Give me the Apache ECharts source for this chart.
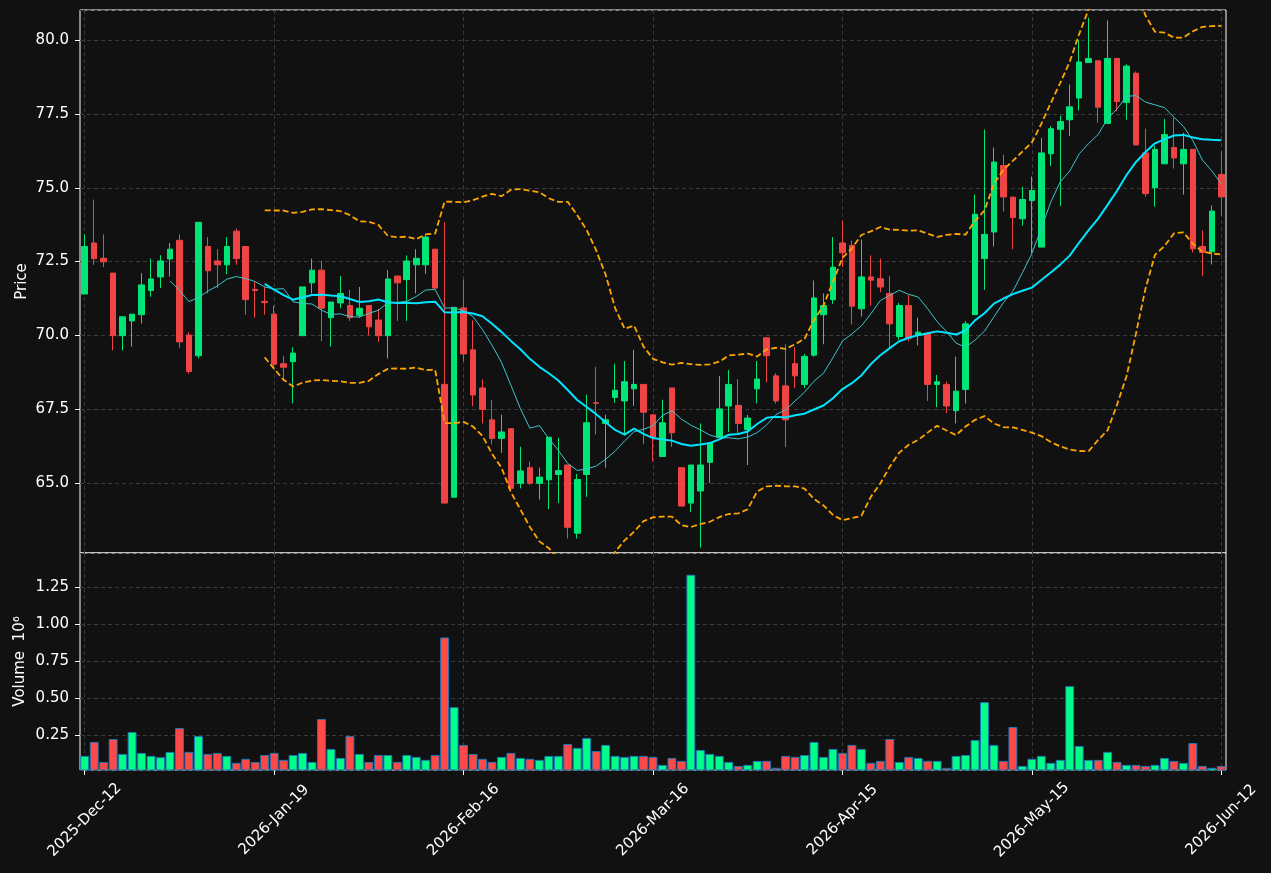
<!DOCTYPE html>
<html>
<head>
<meta charset="utf-8">
<title>Price and Volume</title>
<script src="https://cdn.jsdelivr.net/npm/echarts@6/dist/echarts.min.js"></script>
<style>
  html, body { margin: 0; padding: 0; background: #111111; }
  #chart { width: 1271px; height: 873px; }
</style>
</head>
<body>
<div id="chart"></div>
<script>
// trading calendar: weekdays from the first session, minus market holidays
var firstSession = '2025-12-12';
var sessionCount = 121;
var holidays = ['2025-12-24', '2025-12-25', '2025-12-26', '2025-12-31', '2026-01-01',
                '2026-01-02', '2026-04-03', '2026-04-06', '2026-05-01', '2026-05-14'];
var monthNames = ['Jan', 'Feb', 'Mar', 'Apr', 'May', 'Jun', 'Jul', 'Aug', 'Sep', 'Oct', 'Nov', 'Dec'];

// OHLC
var opens = [
  71.40, 73.13, 72.61, 72.11, 69.99, 70.49, 70.70, 71.52, 71.98, 72.59,
  73.22, 70.01, 69.31, 73.01, 72.52, 72.39, 73.53, 73.01, 71.56, 71.15,
  70.72, 69.04, 69.11, 69.99, 71.78, 72.21, 70.60, 71.10, 71.01, 70.68,
  71.01, 70.52, 69.99, 72.01, 71.89, 72.39, 72.39, 72.92, 68.34, 64.52,
  70.93, 69.51, 68.22, 67.14, 66.51, 66.84, 64.99, 65.52, 64.99, 65.11,
  65.29, 65.61, 63.30, 65.29, 67.72, 67.02, 67.90, 67.78, 68.19, 68.34,
  67.31, 65.90, 68.22, 65.52, 64.32, 64.73, 65.70, 66.55, 67.61, 67.63,
  66.81, 68.19, 69.92, 68.63, 68.29, 69.04, 68.34, 69.33, 70.70, 71.21,
  73.13, 73.05, 70.90, 71.98, 71.92, 71.42, 69.96, 71.01, 70.02, 70.07,
  68.34, 68.34, 67.45, 68.17, 70.70, 72.60, 73.50, 75.75, 74.68, 73.95,
  74.57, 72.99, 76.15, 76.98, 77.30, 78.04, 79.24, 79.30, 77.18, 79.38,
  77.89, 78.88, 76.18, 75.00, 75.81, 76.36, 75.81, 76.30, 73.01, 72.83,
  75.45
];
var closes = [
  73.01, 72.60, 72.49, 69.99, 70.63, 70.72, 71.71, 71.91, 72.52, 72.92,
  69.78, 68.78, 73.83, 72.19, 72.39, 73.01, 72.60, 71.21, 71.52, 71.11,
  69.02, 68.92, 69.40, 71.64, 72.21, 70.92, 71.13, 71.42, 70.60, 70.92,
  70.29, 69.99, 71.91, 71.78, 72.52, 72.61, 73.33, 71.60, 64.32, 70.95,
  69.37, 67.98, 67.49, 66.51, 66.73, 64.82, 65.41, 64.99, 65.20, 66.55,
  65.42, 63.50, 65.12, 67.04, 67.70, 67.14, 68.14, 68.43, 68.34, 67.40,
  66.55, 67.04, 66.70, 64.22, 65.61, 65.61, 66.34, 67.51, 68.34, 67.02,
  67.20, 68.52, 69.31, 67.78, 67.14, 68.63, 69.29, 71.27, 71.01, 72.31,
  72.80, 70.99, 71.98, 71.87, 71.64, 70.39, 71.01, 69.90, 70.11, 68.34,
  68.43, 67.61, 68.11, 70.39, 74.10, 73.42, 75.87, 74.69, 73.99, 74.60,
  74.91, 76.18, 77.00, 77.24, 77.74, 79.26, 79.38, 77.73, 79.38, 77.92,
  79.12, 76.45, 74.80, 76.30, 76.80, 76.01, 76.30, 72.93, 72.81, 74.21,
  74.69
];
var lows = [
  71.40, 72.39, 72.31, 69.49, 69.49, 69.62, 70.40, 71.31, 71.60, 71.99,
  69.58, 68.70, 69.22, 71.42, 71.60, 72.07, 72.39, 70.70, 70.60, 70.70,
  68.93, 68.45, 67.70, 69.99, 71.42, 69.80, 69.62, 70.92, 70.49, 70.60,
  70.00, 69.78, 69.22, 70.49, 70.49, 71.42, 72.09, 71.60, 64.32, 64.52,
  69.11, 67.61, 67.02, 66.31, 66.02, 64.82, 64.82, 64.94, 64.44, 64.12,
  64.32, 63.12, 63.12, 64.53, 66.64, 65.52, 67.72, 66.61, 67.61, 66.31,
  65.73, 65.90, 66.22, 64.22, 64.02, 62.81, 65.00, 66.55, 66.73, 66.67,
  65.61, 67.70, 68.41, 67.69, 66.22, 68.22, 68.22, 69.28, 69.70, 71.07,
  72.31, 70.37, 70.64, 71.01, 71.46, 69.60, 69.86, 69.80, 69.66, 67.78,
  67.57, 67.37, 67.02, 67.69, 70.70, 71.54, 73.01, 74.19, 72.92, 73.72,
  72.78, 72.99, 75.74, 74.38, 76.75, 77.62, 79.24, 77.20, 77.18, 77.59,
  77.30, 76.45, 74.69, 74.36, 75.81, 75.65, 74.77, 72.81, 72.00, 72.40,
  74.04
];
var highs = [
  73.42, 74.60, 73.42, 72.11, 70.63, 70.72, 72.11, 72.60, 72.71, 73.13,
  73.42, 70.11, 73.83, 73.33, 72.92, 73.33, 73.62, 73.01, 71.84, 71.66,
  71.01, 69.31, 69.60, 71.64, 72.60, 72.52, 71.13, 72.01, 71.54, 71.64,
  71.01, 70.90, 72.21, 72.01, 72.71, 72.92, 73.42, 72.92, 73.83, 70.95,
  71.89, 70.51, 68.51, 67.82, 67.31, 66.84, 66.23, 65.73, 65.52, 66.55,
  66.53, 65.61, 65.31, 67.99, 68.93, 67.31, 69.04, 69.13, 69.51, 68.34,
  67.31, 67.82, 68.22, 65.52, 65.61, 67.02, 66.37, 68.63, 68.83, 68.52,
  67.31, 69.13, 69.92, 68.72, 69.70, 69.60, 69.37, 71.86, 71.42, 73.33,
  73.89, 73.21, 73.25, 72.71, 72.60, 72.01, 71.10, 71.37, 70.60, 70.07,
  68.66, 68.43, 69.28, 70.49, 74.77, 76.97, 76.36, 76.12, 74.71, 75.03,
  75.38, 76.69, 77.09, 77.44, 78.50, 80.00, 80.76, 79.30, 80.67, 79.38,
  79.18, 78.94, 77.00, 76.42, 77.33, 77.38, 76.86, 76.30, 73.56, 74.40,
  76.24
];
// volume in millions of shares
var volumes = [
  0.109, 0.203, 0.068, 0.223, 0.122, 0.270, 0.129, 0.109, 0.100, 0.136,
  0.297, 0.136, 0.243, 0.122, 0.129, 0.109, 0.062, 0.089, 0.068, 0.115,
  0.129, 0.082, 0.115, 0.129, 0.068, 0.358, 0.156, 0.095, 0.243, 0.122,
  0.068, 0.115, 0.115, 0.068, 0.115, 0.102, 0.082, 0.115, 0.909, 0.438,
  0.183, 0.122, 0.089, 0.068, 0.102, 0.129, 0.095, 0.089, 0.082, 0.109,
  0.109, 0.189, 0.163, 0.230, 0.142, 0.183, 0.109, 0.102, 0.109, 0.109,
  0.102, 0.048, 0.095, 0.075, 1.333, 0.149, 0.122, 0.109, 0.068, 0.041,
  0.048, 0.075, 0.075, 0.028, 0.109, 0.102, 0.115, 0.203, 0.102, 0.156,
  0.129, 0.183, 0.156, 0.062, 0.075, 0.223, 0.068, 0.102, 0.095, 0.075,
  0.075, 0.028, 0.109, 0.115, 0.216, 0.472, 0.183, 0.075, 0.304, 0.041,
  0.089, 0.109, 0.062, 0.082, 0.580, 0.176, 0.082, 0.082, 0.136, 0.068,
  0.048, 0.048, 0.041, 0.048, 0.095, 0.075, 0.062, 0.196, 0.041, 0.028,
  0.041
];

// indicator settings
var maFast = 10;
var maSlow = 20;
var bandWidth = 2;

function tradingDays(start, count, skip) {
  var out = [];
  var d = new Date(start + 'T00:00:00Z');
  while (out.length < count) {
    var iso = d.toISOString().slice(0, 10);
    var wd = d.getUTCDay();
    if (wd !== 0 && wd !== 6 && skip.indexOf(iso) < 0) out.push(iso);
    d.setUTCDate(d.getUTCDate() + 1);
  }
  return out;
}

function fmtDate(iso) {
  var p = iso.split('-');
  return p[0] + '-' + monthNames[+p[1] - 1] + '-' + p[2];
}

// simple moving average of the closes
function movingAverage(vals, n) {
  return vals.map(function (v, i) {
    if (i < n - 1) return null;
    var s = 0;
    for (var k = i - n + 1; k <= i; k++) s += vals[k];
    return +(s / n).toFixed(3);
  });
}

// bollinger bands (population std)
function bands(vals, n, mult) {
  var mid = movingAverage(vals, n);
  var up = [], lo = [];
  vals.forEach(function (v, i) {
    if (mid[i] == null) { up.push(null); lo.push(null); return; }
    var s = 0;
    for (var k = i - n + 1; k <= i; k++) s += Math.pow(vals[k] - mid[i], 2);
    var sd = Math.sqrt(s / n);
    up.push(+(mid[i] + mult * sd).toFixed(3));
    lo.push(+(mid[i] - mult * sd).toFixed(3));
  });
  return { up: up, lo: lo };
}

var dates = tradingDays(firstSession, sessionCount, holidays);
var ohlc = opens.map(function (o, i) { return [o, closes[i], lows[i], highs[i]]; });
var ma10 = movingAverage(closes, maFast);
var ma20 = movingAverage(closes, maSlow);
var bb = bands(closes, maSlow, bandWidth);

var upColor = '#00e676', downColor = '#ef4444';
var volUp = '#00ff88', volDown = '#ff4848';
var volData = volumes.map(function (v, i) {
  return { value: v, itemStyle: { color: closes[i] >= opens[i] ? volUp : volDown } };
});

var font = 'DejaVu Sans';
var textColor = '#ffffff';
var fontSize = 15;
var gridLine = { show: true, lineStyle: { color: '#3a3a3a', type: [4, 3], width: 1 } };

var chart = echarts.init(document.getElementById('chart'));

var option = {
  backgroundColor: '#111111',
  animation: false,
  textStyle: { fontFamily: font },
  tooltip: { trigger: 'axis', axisPointer: { type: 'cross' } },
  axisPointer: { link: [{ xAxisIndex: 'all' }] },
  grid: [
    { left: 80, right: 45, top: 10, height: 543, show: true,
      backgroundColor: '#111111', borderColor: '#ffffff', borderWidth: 1 },
    { left: 80, right: 45, top: 553, height: 217, show: true,
      backgroundColor: '#111111', borderColor: '#ffffff', borderWidth: 1 }
  ],
  xAxis: [
    {
      type: 'category', gridIndex: 0, data: dates, boundaryGap: true,
      axisLine: { show: false }, axisTick: { show: false }, axisLabel: { show: false },
      splitLine: { show: true, interval: 19, alignWithLabel: true,
        lineStyle: gridLine.lineStyle }
    },
    {
      type: 'category', gridIndex: 1, data: dates, boundaryGap: true,
      axisLine: { show: false },
      axisTick: { show: true, interval: 19, alignWithLabel: true, length: 5,
        lineStyle: { color: '#ffffff' } },
      axisLabel: {
        interval: 19, rotate: 45, align: 'center', verticalAlign: 'middle', margin: 50,
        color: textColor, fontSize: fontSize, fontFamily: font,
        formatter: function (v) { return fmtDate(v); }
      },
      splitLine: { show: true, interval: 19, alignWithLabel: true,
        lineStyle: gridLine.lineStyle }
    }
  ],
  yAxis: [
    {
      type: 'value', gridIndex: 0, scale: true,
      min: 62.63, max: 81.02, minInterval: 2.5, maxInterval: 2.5,
      name: 'Price', nameLocation: 'middle', nameGap: 50, nameMoveOverlap: false,
      nameTextStyle: { color: textColor, fontSize: fontSize, fontFamily: font },
      axisLine: { show: false },
      axisTick: { show: true, length: 5, lineStyle: { color: '#ffffff' } },
      axisLabel: { color: textColor, fontSize: fontSize, fontFamily: font, margin: 11,
        showMinLabel: false, showMaxLabel: false,
        formatter: function (v) { return v.toFixed(1); } },
      splitLine: gridLine
    },
    {
      type: 'value', gridIndex: 1, scale: true,
      min: 0.0135, max: 1.48, minInterval: 0.25, maxInterval: 0.25,
      name: 'Volume  10\u2076', nameLocation: 'middle', nameGap: 52, nameMoveOverlap: false,
      nameTextStyle: { color: textColor, fontSize: fontSize, fontFamily: font },
      axisLine: { show: false },
      axisTick: { show: true, length: 5, lineStyle: { color: '#ffffff' } },
      axisLabel: { color: textColor, fontSize: fontSize, fontFamily: font, margin: 11,
        showMinLabel: false, showMaxLabel: false,
        formatter: function (v) { return v.toFixed(2); } },
      splitLine: gridLine
    }
  ],
  series: [
    {
      name: 'OHLC', type: 'candlestick', xAxisIndex: 0, yAxisIndex: 0,
      data: ohlc, barWidth: '64%',
      itemStyle: { color: upColor, color0: downColor, borderColor: upColor,
        borderColor0: downColor, borderWidth: 1 }
    },
    {
      name: 'MA10', type: 'line', xAxisIndex: 0, yAxisIndex: 0, data: ma10,
      symbol: 'none', lineStyle: { color: '#3cc6c9', width: 1 }, z: 3
    },
    {
      name: 'MA20', type: 'line', xAxisIndex: 0, yAxisIndex: 0, data: ma20,
      symbol: 'none', lineStyle: { color: '#00e5ff', width: 2 }, z: 3
    },
    {
      name: 'BB upper', type: 'line', xAxisIndex: 0, yAxisIndex: 0, data: bb.up,
      symbol: 'none', lineStyle: { color: '#ffa500', width: 1.8, type: [6, 3] }, z: 3
    },
    {
      name: 'BB lower', type: 'line', xAxisIndex: 0, yAxisIndex: 0, data: bb.lo,
      symbol: 'none', lineStyle: { color: '#ffa500', width: 1.8, type: [6, 3] }, z: 3
    },
    {
      name: 'Volume', type: 'bar', xAxisIndex: 1, yAxisIndex: 1, data: volData,
      barWidth: '94%', itemStyle: { borderColor: '#1f77b4', borderWidth: 1 }
    }
  ]
};

chart.setOption(option);
</script>
</body>
</html>
